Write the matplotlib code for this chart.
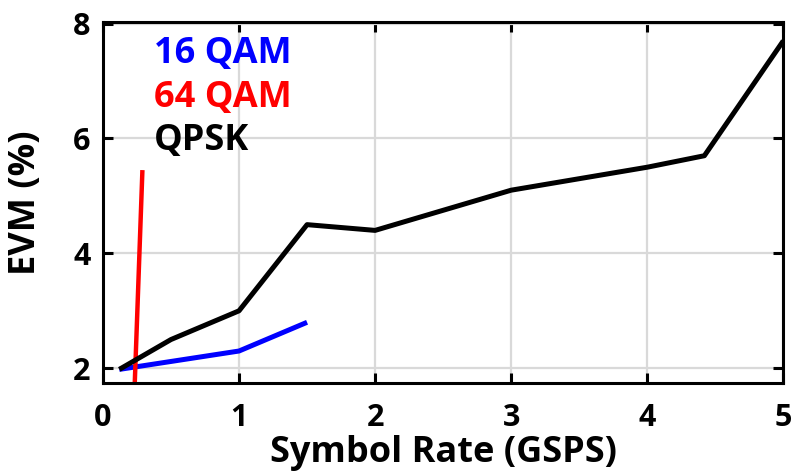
import matplotlib
matplotlib.use('Agg')
import matplotlib.pyplot as plt

# data
qam16_x = [0.12, 1.0, 1.5]
qam16_y = [1.98, 2.3, 2.8]
qam64_x = [0.23, 0.29]
qam64_y = [1.5, 5.45]
qpsk_x = [0.12, 0.5, 1.0, 1.5, 2.0, 3.0, 4.0, 4.42, 5.0]
qpsk_y = [1.98, 2.5, 3.0, 4.5, 4.4, 5.1, 5.5, 5.7, 7.7]

xticks = [0, 1, 2, 3, 4, 5]
yticks = [2, 4, 6, 8]

plt.rcParams['font.family'] = ['Open Sans', 'DejaVu Sans']
plt.rcParams['font.weight'] = 'bold'

fig = plt.figure(figsize=(7.92, 4.76), dpi=100)
ax = fig.add_axes([0.130, 0.195, 0.859, 0.759])

ax.plot(qam16_x, qam16_y, color='blue', linewidth=3.6, label='16 QAM', solid_capstyle='butt')
ax.plot(qam64_x, qam64_y, color='red', linewidth=3.2, label='64 QAM', solid_capstyle='butt')
ax.plot(qpsk_x, qpsk_y, color='black', linewidth=3.6, label='QPSK', solid_capstyle='butt')

ax.set_xlim(0, 5)
ax.set_ylim(1.74, 8.03)
ax.set_xticks(xticks)
ax.set_yticks(yticks)
ax.grid(True, color='#d9d9d9', linewidth=1.6)
ax.set_axisbelow(True)
ax.tick_params(direction='in', length=7, width=2.2, top=True, right=True,
               labelsize=22)
ax.tick_params(axis='x', pad=14)
ax.tick_params(axis='y', pad=9)
for lab in ax.get_xticklabels() + ax.get_yticklabels():
    lab.set_fontweight('bold')
for s in ax.spines.values():
    s.set_linewidth(2.2)

ax.set_xlabel('Symbol Rate (GSPS)', fontsize=26, fontweight='bold', labelpad=2)
ax.set_ylabel('EVM (%)', fontsize=26, fontweight='bold')
ax.yaxis.set_label_coords(-0.086, 0.5)

leg = ax.legend(loc='upper left', bbox_to_anchor=(0.027, 1.05), frameon=False,
                handlelength=0, handletextpad=0, labelspacing=0.2,
                labelcolor='linecolor', prop={'size': 26, 'weight': 'bold'})
for h in leg.legend_handles:
    h.set_visible(False)

plt.savefig('out.png', dpi=100)
plt.close()
